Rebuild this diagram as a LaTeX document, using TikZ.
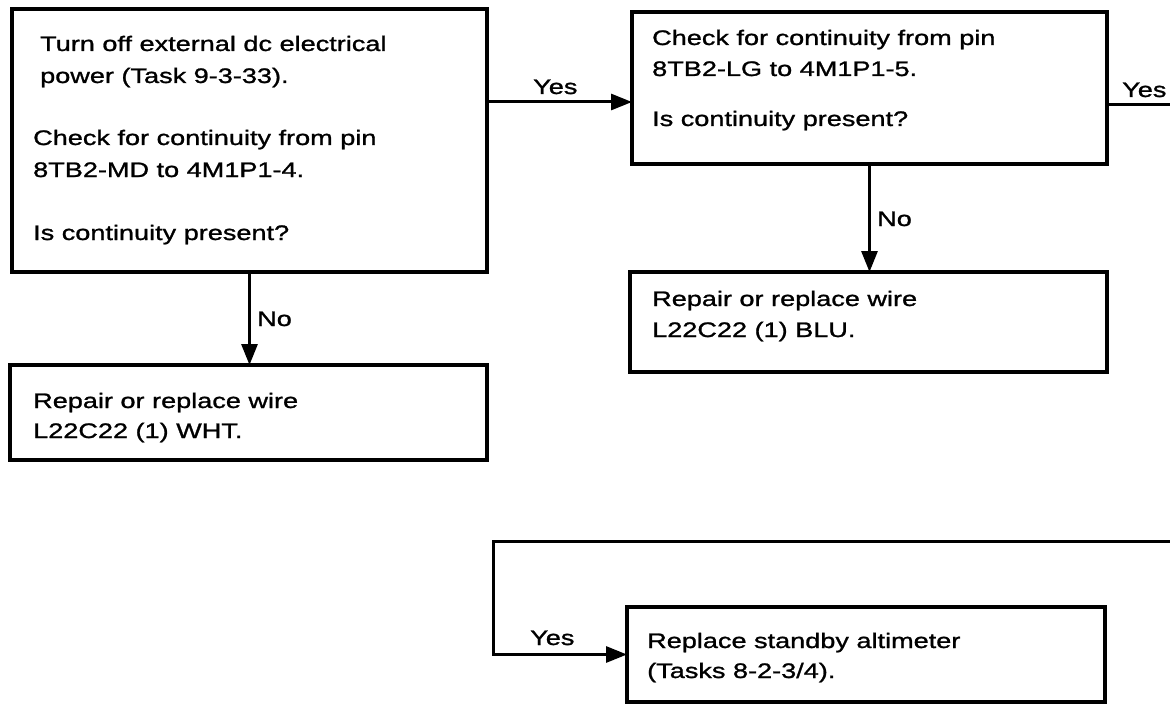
\documentclass[tikz,border=0pt]{standalone}
\usepackage{fontspec}
\setmainfont{Liberation Sans}[FakeStretch=1.29,FakeBold=1.2]
\usetikzlibrary{arrows.meta}
\begin{document}
\begin{tikzpicture}[x=1pt,y=-1pt,
  box/.style={draw,line width=3.8pt,inner sep=0pt,outer sep=0pt,anchor=north west},
  txt/.style={inner sep=0pt,anchor=base west,font=\fontsize{21}{30}\selectfont},
  lbl/.style={inner sep=0pt,anchor=base west,font=\fontsize{21}{30}\selectfont},
  arr/.style={line width=3pt,-{Triangle[length=21pt,width=16pt]}},
  ln/.style={line width=3pt}]
\useasboundingbox (0,0) rectangle (1170,706);
% boxes
\node[box,minimum width=475pt,minimum height=263pt] (b1) at (12,9) {};
\node[box,minimum width=477pt,minimum height=95pt] (b3) at (10,365) {};
\node[box,minimum width=475pt,minimum height=152pt] (b2) at (632,12) {};
\node[box,minimum width=477pt,minimum height=100pt] (b4) at (630,272) {};
\node[box,minimum width=478pt,minimum height=95pt] (b5) at (627,607) {};
% texts
\node[txt] (t1a) at (40,51) {Turn off external dc electrical};
\node[txt] (t1b) at (40,83) {power (Task 9-3-33).};
\node[txt] (t1c) at (33,145) {Check for continuity from pin};
\node[txt] (t1d) at (33,177) {8TB2-MD to 4M1P1-4.};
\node[txt] (t1e) at (33,240) {Is continuity present?};
\node[txt] (t2a) at (652,45) {Check for continuity from pin};
\node[txt] (t2b) at (652,76) {8TB2-LG to 4M1P1-5.};
\node[txt] (t2c) at (652,126) {Is continuity present?};
\node[txt] (t3a) at (33,408) {Repair or replace wire};
\node[txt] (t3b) at (33,438) {L22C22 (1) WHT.};
\node[txt] (t4a) at (652,306) {Repair or replace wire};
\node[txt] (t4b) at (652,337) {L22C22 (1) BLU.};
\node[txt] (t5a) at (647,648) {Replace standby altimeter};
\node[txt] (t5b) at (647,678) {(Tasks 8-2-3/4).};
% connectors
\coordinate (y1) at (0,102);
\draw[arr] (b1.east |- y1) -- (b2.west |- y1);
\node[lbl] (l1) at (533,94) {Yes};
\draw[arr] (b1.south) -- (b1.south |- b3.north);
\node[lbl] (l2) at (257,326) {No};
\draw[arr] (b2.south) -- (b2.south |- b4.north);
\node[lbl] (l3) at (877,226) {No};
\coordinate (r1) at (1170,105);
\draw[ln] (b2.east |- r1) -- (r1);
\node[lbl] (l4) at (1122,97) {Yes};
\coordinate (r2) at (1170,541);
\coordinate (c1) at (493,541);
\draw[arr] (r2) -- (c1) |- (b5.west);
\node[lbl] (l5) at (530,645) {Yes};
\end{tikzpicture}
\end{document}
